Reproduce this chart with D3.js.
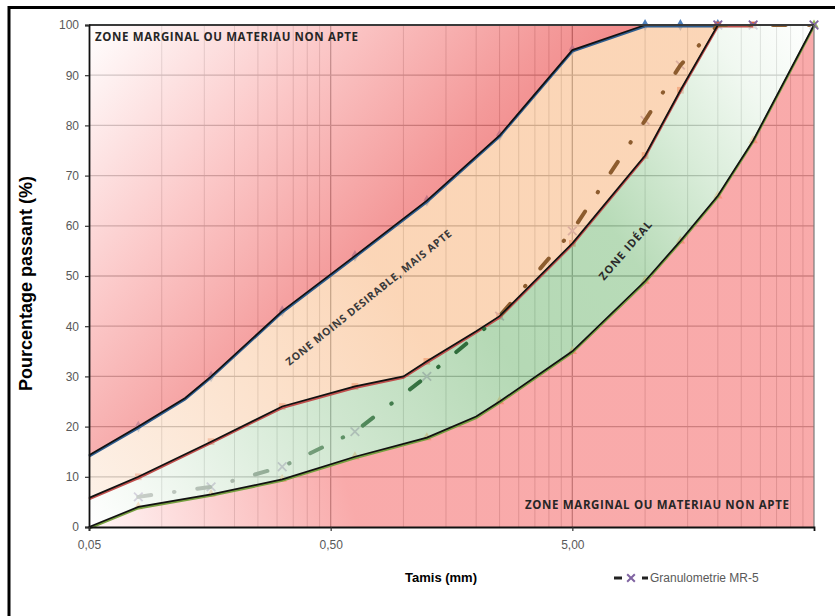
<!DOCTYPE html>
<html>
<head>
<meta charset="utf-8">
<script src="https://cdn.jsdelivr.net/npm/d3@7"></script>
<style>
  body { margin: 0; background: #fff; }
  svg { display: block; }
</style>
</head>
<body>
<div id="chart"></div>
<script>
  // sieve openings (mm) and percentage passing
  var limitUpperX = [0.05, 0.08, 0.125, 0.16, 0.315, 0.63, 1.25, 2.5, 5, 10, 14, 20];
  var limitUpperY = [14.3, 20, 25.7, 30, 43, 54, 65, 78, 95, 100, 100, 100];

  var idealUpperX = [0.05, 0.08, 0.16, 0.315, 0.63, 1, 1.25, 2, 2.5, 5, 10, 14, 20, 28];
  var idealUpperY = [5.8, 10, 17, 24, 28, 30, 33, 39, 42, 56.5, 74, 87, 100, 100];

  var idealLowerX = [0.05, 0.08, 0.16, 0.315, 0.63, 1.25, 2, 2.5, 5, 10, 14, 20, 28, 50];
  var idealLowerY = [0, 4, 6.5, 9.5, 14, 17.8, 22, 25, 35, 49, 57, 66, 77, 100];

  var mr5X = [0.08, 0.16, 0.315, 0.63, 1.25, 2.5, 5, 10, 14, 20, 28, 50];
  var mr5Y = [6, 8, 12, 19, 30, 42, 59, 81, 92, 100, 100, 100];

  // sieves that carry a marker in the original workbook
  var markerSieves = [0.08, 0.16, 0.315, 0.63, 1.25, 2.5, 5, 10, 14, 20, 28, 50];

  var yTicks = [0, 10, 20, 30, 40, 50, 60, 70, 80, 90, 100];
  var xTicks = [0.05, 0.5, 5];
  var xTickLabels = ["0,05", "0,50", "5,00"];

  var width = 835, height = 616;
  var svg = d3.select("#chart").append("svg")
      .attr("width", width)
      .attr("height", height);

  var x = d3.scaleLog().domain([0.05, 50]).range([89, 814]);
  var y = d3.scaleLinear().domain([0, 100]).range([527, 25]);

  // the zones are a 75% veil over the grid, pick paint that gives the wanted tint over white
  var veilOpacity = 0.75;
  function veil(target) {
      var c = d3.rgb(target);
      var f = function (v) { return Math.max(0, Math.min(255, (v - 255 * (1 - veilOpacity)) / veilOpacity)); };
      return d3.rgb(f(c.r), f(c.g), f(c.b)).formatHex();
  }

  var defs = svg.append("defs");
  defs.append("clipPath").attr("id", "plotClip")
      .append("rect")
      .attr("x", x(0.05)).attr("y", y(100))
      .attr("width", x(50) - x(0.05)).attr("height", y(0) - y(100));

  function gradient(id, x1, y1, x2, y2, stops) {
      var g = defs.append("linearGradient")
          .attr("id", id)
          .attr("gradientUnits", "userSpaceOnUse")
          .attr("x1", x1).attr("y1", y1).attr("x2", x2).attr("y2", y2);
      stops.forEach(function (s) {
          g.append("stop").attr("offset", s[0]).attr("stop-color", s[1]);
      });
  }

  gradient("gradRed", x(0.05), y(100), 450, 330, [
      [0, veil("#ffffff")], [0.4, veil("#fbc8c8")], [0.75, veil("#f49a9a")],
      [1, veil("#f07f7f")]]);
  gradient("gradPeach", x(0.05), 500, 400, 300, [
      [0, veil("#fdf1e7")], [1, veil("#fbd6b7")]]);
  gradient("gradGreen", x(0.05), y(0), x(50), y(100), [
      [0, veil("#ffffff")], [0.08, veil("#f3f9f3")], [0.3, veil("#cfe6cf")],
      [0.5, veil("#b5d9b5")], [0.68, veil("#b8dbb8")], [0.8, veil("#d9ecd9")],
      [0.9, veil("#f1f8f1")], [1, veil("#ffffff")]]);
  gradient("gradPink", x(0.05), y(0), 340, 460, [
      [0, veil("#fff6f6")], [1, veil("#f9aaaa")]]);

  // MR-5 line takes the tint of the zone it crosses
  var f0 = x(0.08), f1 = x(50);
  function off(v) { return (x(v) - f0) / (f1 - f0); }
  gradient("gradMr5", f0, 0, f1, 0, [
      [0, "#c8cec8"], [off(0.2), "#a9b8ab"], [off(0.6), "#5a8f62"],
      [off(1.25), "#2f6d3b"], [off(2.4), "#2f6d3b"], [off(2.6), "#8d5c2e"], [1, "#8d5c2e"]]);

  function pts(xs, ys) {
      return xs.map(function (d, i) { return [d, ys[i]]; });
  }
  var limitUpper = pts(limitUpperX, limitUpperY);
  var idealUpper = pts(idealUpperX, idealUpperY);
  var idealLower = pts(idealLowerX, idealLowerY);
  var mr5 = pts(mr5X, mr5Y);

  var line = d3.line()
      .x(function (d) { return x(d[0]); })
      .y(function (d) { return y(d[1]); });

  // outer frame of the picture
  svg.append("rect")
      .attr("x", 9).attr("y", 7.5)
      .attr("width", 860).attr("height", 640)
      .attr("fill", "none")
      .attr("stroke", "#000")
      .attr("stroke-width", 3);

  // grid
  var grid = svg.append("g");
  var minorX = d3.merge([0.05, 0.5, 5].map(function (b) {
      return d3.range(2, 10).map(function (k) { return b * k; });
  })).filter(function (v) { return Math.abs(v - 0.5) > 1e-9 && Math.abs(v - 5) > 1e-9; });
  grid.selectAll("line.minor").data(minorX).enter().append("line")
      .attr("x1", function (d) { return x(d); }).attr("x2", function (d) { return x(d); })
      .attr("y1", y(0)).attr("y2", y(100))
      .attr("stroke", "#9a9a9a").attr("stroke-width", 1);
  grid.selectAll("line.major").data([0.5, 5]).enter().append("line")
      .attr("x1", function (d) { return x(d); }).attr("x2", function (d) { return x(d); })
      .attr("y1", y(0)).attr("y2", y(100))
      .attr("stroke", "#303030").attr("stroke-width", 1.3);
  grid.selectAll("line.h").data(yTicks.slice(1, -1)).enter().append("line")
      .attr("x1", x(0.05)).attr("x2", x(50))
      .attr("y1", function (d) { return y(d); }).attr("y2", function (d) { return y(d); })
      .attr("stroke", "#505050").attr("stroke-width", 1.3);

  // markers sit under the veil, so they come out faded
  function markers(data, type, size, color, stroke) {
      var sym = d3.symbol().type(type).size(size);
      svg.append("g").selectAll("path")
          .data(data.filter(function (d) { return markerSieves.indexOf(d[0]) >= 0; }))
          .enter().append("path")
          .attr("transform", function (d) { return "translate(" + x(d[0]) + "," + y(d[1]) + ")"; })
          .attr("d", sym)
          .attr("fill", stroke ? "none" : color)
          .attr("stroke", stroke ? color : "none")
          .attr("stroke-width", stroke ? 1.8 : 0);
  }
  markers(limitUpper, d3.symbolDiamond, 40, "#4f81bd");
  markers(idealUpper, d3.symbolSquare, 45, "#e0603c");
  markers(idealLower.slice(0, -1), d3.symbolTriangle, 38, "#f79646");
  markers(idealLower.slice(-1), d3.symbolTriangle, 38, "#9bbb59");
  markers(mr5, d3.symbolTimes, 50, "#8064a2", true);

  // zones
  var zones = svg.append("g").attr("clip-path", "url(#plotClip)");
  var zoneRed = [[0.05, 100]].concat(limitUpper.slice().reverse());
  var zonePeach = limitUpper.concat(idealUpper.slice().reverse());
  var zoneGreen = idealUpper.concat(idealLower.slice().reverse());
  var zonePink = idealLower.concat([[50, 0]]);
  [[zoneRed, "gradRed"], [zonePeach, "gradPeach"], [zoneGreen, "gradGreen"], [zonePink, "gradPink"]]
      .forEach(function (z) {
          zones.append("path")
              .attr("d", line(z[0]) + "Z")
              .attr("fill", "url(#" + z[1] + ")")
              .attr("fill-opacity", veilOpacity);
      });

  // series lines peeking out under the hand drawn black limits
  var coloured = svg.append("g").attr("transform", "translate(0,1.3)").attr("fill", "none");
  coloured.append("path").attr("d", line(limitUpper)).attr("stroke", "#2f5d8f").attr("stroke-width", 2.4);
  coloured.append("path").attr("d", line(idealUpper)).attr("stroke", "#c0504d").attr("stroke-width", 2.4);
  coloured.append("path").attr("d", line(idealLower)).attr("stroke", "#77a040").attr("stroke-width", 2.4);

  // Granulometrie MR-5
  svg.append("path")
      .attr("clip-path", "url(#plotClip)")
      .attr("d", line(mr5))
      .attr("fill", "none")
      .attr("stroke", "url(#gradMr5)")
      .attr("stroke-width", 4)
      .attr("stroke-linecap", "round")
      .attr("stroke-dasharray", "13 23 0.5 23");

  // black limit lines
  var limits = svg.append("g").attr("fill", "none").attr("stroke", "#111").attr("stroke-width", 1.7);
  limits.append("path").attr("d", line(limitUpper));
  limits.append("path").attr("d", line(idealUpper));
  limits.append("path").attr("d", line(idealLower));

  // plot borders
  svg.append("line")
      .attr("x1", x(0.05)).attr("x2", x(50)).attr("y1", y(100)).attr("y2", y(100))
      .attr("stroke", "#3a3a3a").attr("stroke-width", 2);
  svg.append("line")
      .attr("x1", x(50)).attr("x2", x(50)).attr("y1", y(100)).attr("y2", y(0))
      .attr("stroke", "#7a7a7a").attr("stroke-width", 1.2);

  // axes
  var yAxis = svg.append("g")
      .attr("transform", "translate(" + x(0.05) + ",0)")
      .call(d3.axisLeft(y).tickValues(yTicks).tickSize(4).tickPadding(6));
  var xAxis = svg.append("g")
      .attr("transform", "translate(0," + y(0) + ")")
      .call(d3.axisBottom(x).tickValues(xTicks).tickSize(4).tickPadding(9)
          .tickFormat(function (d, i) { return xTickLabels[i]; }));
  [yAxis, xAxis].forEach(function (a) {
      a.select(".domain").attr("stroke", "#111").attr("stroke-width", 1.8);
      a.selectAll(".tick line").attr("stroke", "#333").attr("stroke-width", 1.2);
      a.selectAll(".tick text")
          .attr("fill", "#595959")
          .style("font-family", "'Liberation Sans', Arial, sans-serif")
          .style("font-size", "12px");
  });

  svg.append("text")
      .attr("transform", "translate(26,283.5) rotate(-90)")
      .attr("text-anchor", "middle")
      .attr("dominant-baseline", "central")
      .style("font-family", "'Liberation Sans', Arial, sans-serif")
      .style("font-size", "18px")
      .style("font-weight", "bold")
      .text("Pourcentage passant (%)");

  svg.append("text")
      .attr("x", 441).attr("y", 582)
      .attr("text-anchor", "middle")
      .style("font-family", "'Liberation Sans', Arial, sans-serif")
      .style("font-size", "13px")
      .style("font-weight", "bold")
      .text("Tamis (mm)");

  // legend
  var legend = svg.append("g");
  legend.append("line")
      .attr("x1", 614).attr("x2", 648).attr("y1", 578).attr("y2", 578)
      .attr("stroke", "#222").attr("stroke-width", 3)
      .attr("stroke-dasharray", "8 20 6");
  legend.append("path")
      .attr("transform", "translate(631,578)")
      .attr("d", d3.symbol().type(d3.symbolTimes).size(40))
      .attr("fill", "none").attr("stroke", "#8064a2").attr("stroke-width", 2);
  legend.append("text")
      .attr("x", 650).attr("y", 582)
      .attr("fill", "#595959")
      .style("font-family", "'Liberation Sans', Arial, sans-serif")
      .style("font-size", "12px")
      .text("Granulometrie MR-5");

  // zone captions
  var zoneFont = "'Open Sans', sans-serif";
  svg.append("text")
      .attr("x", 95).attr("y", 41)
      .attr("textLength", 263).attr("lengthAdjust", "spacing")
      .attr("fill", "#262626")
      .style("font-family", zoneFont).style("font-size", "11.5px").style("font-weight", "bold")
      .text("ZONE MARGINAL OU MATERIAU NON APTE");
  svg.append("text")
      .attr("x", 525).attr("y", 509)
      .attr("textLength", 264).attr("lengthAdjust", "spacing")
      .attr("fill", "#262626")
      .style("font-family", zoneFont).style("font-size", "11.5px").style("font-weight", "bold")
      .text("ZONE MARGINAL OU MATERIAU NON APTE");
  svg.append("text")
      .attr("transform", "translate(368.5,297.5) rotate(-38.8)")
      .attr("text-anchor", "middle").attr("dominant-baseline", "central")
      .attr("textLength", 209).attr("lengthAdjust", "spacing")
      .attr("fill", "#3a3a3a")
      .style("font-family", zoneFont).style("font-size", "10.5px").style("font-weight", "bold")
      .text("ZONE MOINS DESIRABLE, MAIS APTE");
  svg.append("text")
      .attr("transform", "translate(625,250) rotate(-49)")
      .attr("text-anchor", "middle").attr("dominant-baseline", "central")
      .attr("textLength", 74).attr("lengthAdjust", "spacing")
      .attr("fill", "#2a2a2a")
      .style("font-family", zoneFont).style("font-size", "11px").style("font-weight", "bold")
      .text("ZONE IDÉAL");
</script>
</body>
</html>
